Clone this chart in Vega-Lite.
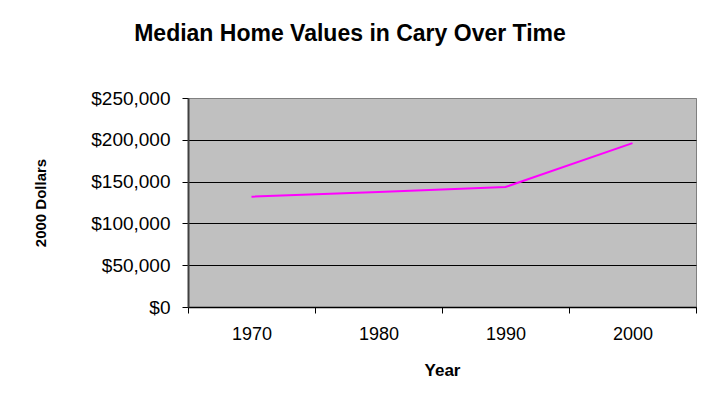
{
  "$schema": "https://vega.github.io/schema/vega-lite/v6.json",
  "autosize": "none",
  "width": 508,
  "height": 209,
  "padding": {"left": 188, "top": 98, "right": 7, "bottom": 95},
  "background": "white",
  "title": {
    "text": "Median Home Values in Cary Over Time",
    "font": "Liberation Sans",
    "fontSize": 23,
    "fontWeight": "bold",
    "color": "black",
    "anchor": "middle",
    "frame": "group",
    "dx": -92,
    "offset": 43
  },
  "data": {
    "values": [
      {"Year": 1970, "Value": 132000},
      {"Year": 1980, "Value": 137500},
      {"Year": 1990, "Value": 143500},
      {"Year": 2000, "Value": 196000}
    ]
  },
  "config": {
    "view": {"fill": "#C0C0C0", "stroke": "#808080", "strokeWidth": 1},
    "axis": {
      "labelFont": "Liberation Sans",
      "titleFont": "Liberation Sans",
      "labelColor": "black",
      "titleColor": "black"
    }
  },
  "mark": {"type": "line", "color": "#FF00FF", "strokeWidth": 2},
  "encoding": {
    "x": {
      "field": "Year",
      "type": "quantitative",
      "scale": {"domain": [1965, 2005], "nice": false, "zero": false},
      "axis": {
        "values": [1965, 1970, 1975, 1980, 1985, 1990, 1995, 2000, 2005],
        "labelExpr": "datum.value % 10 == 0 ? format(datum.value, 'd') : ''",
        "labelOverlap": false,
        "labelBound": false,
        "labelFlush": false,
        "ticks": true,
        "tickSize": 6,
        "tickColor": "black",
        "tickOpacity": {"condition": {"test": "datum.value % 10 == 5", "value": 1}, "value": 0},
        "domain": true,
        "domainColor": "black",
        "domainWidth": 1.5,
        "grid": false,
        "labelFontSize": 18,
        "labelPadding": 12,
        "title": "Year",
        "titleFontSize": 17,
        "titleFontWeight": "bold",
        "titlePadding": 19
      }
    },
    "y": {
      "field": "Value",
      "type": "quantitative",
      "scale": {"domain": [0, 250000], "nice": false},
      "axis": {
        "values": [0, 50000, 100000, 150000, 200000, 250000],
        "format": "$,.0f",
        "labelFontSize": 19,
        "labelPadding": 12,
        "tickSize": 6,
        "tickColor": "black",
        "domainColor": "#404040",
        "domainWidth": 2,
        "grid": true,
        "gridColor": {"condition": {"test": "datum.value == 250000", "value": "#808080"}, "value": "black"},
        "gridWidth": 1,
        "gridOpacity": 1,
        "title": "2000 Dollars",
        "titleFontSize": 15,
        "titleFontWeight": "bold",
        "titlePadding": 42
      }
    }
  }
}
